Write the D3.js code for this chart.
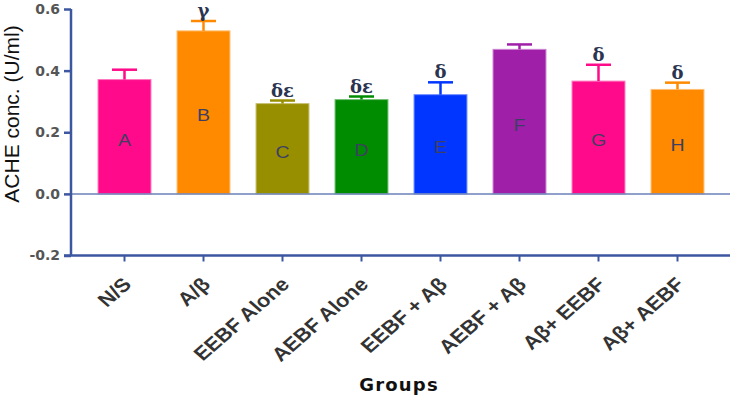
<!DOCTYPE html>
<html>
<head>
<meta charset="utf-8">
<script src="https://cdn.jsdelivr.net/npm/d3@7"></script>
<style>
  html, body { margin: 0; padding: 0; background: #fff; }
  svg { display: block; }
</style>
</head>
<body>
<div id="vis"></div>
<script>
// data
const groups = ["N/S", "A/β", "EEBF Alone", "AEBF Alone", "EEBF + Aβ", "AEBF + Aβ", "Aβ+ EEBF", "Aβ+ AEBF"];
const letters = ["A", "B", "C", "D", "E", "F", "G", "H"];
const means = [0.371, 0.529, 0.293, 0.306, 0.322, 0.469, 0.366, 0.339];
const errs = [0.032, 0.032, 0.010, 0.010, 0.040, 0.016, 0.053, 0.022];
const marks = ["", "γ", "δε", "δε", "δ", "", "δ", "δ"];
const colors = ["#ff0a8a", "#ff8a00", "#978f00", "#008c00", "#0036ff", "#a01fa9", "#ff0a8a", "#ff8a00"];
const yTicks = [-0.2, 0, 0.2, 0.4, 0.6];

const [width, height] = [733, 397];
const axisColor = "#3d56a0";

const svg = d3.select("#vis").append("svg")
  .attr("width", width).attr("height", height);

const x = d3.scaleBand().domain(groups).range([85, 717]).paddingInner(0.33).paddingOuter(0.165);
const y = d3.scaleLinear().domain([-0.2, 0.6]).range([255.5, 9]);

const rows = groups.map((g, i) => ({g, letter: letters[i], v: means[i], e: errs[i], mark: marks[i], c: colors[i]}));
const cx = d => x(d.g) + x.bandwidth() / 2;

// bars
const bar = svg.append("g").selectAll("g").data(rows).join("g");
bar.append("rect")
  .attr("x", d => x(d.g))
  .attr("y", d => y(d.v))
  .attr("width", x.bandwidth())
  .attr("height", d => y(0) - y(d.v))
  .attr("fill", d => d.c)
  .attr("stroke", d => d3.interpolateRgb(d.c, "#fff")(0.45))
  .attr("stroke-width", 1);
// error bars
bar.append("line")
  .attr("x1", cx).attr("x2", cx)
  .attr("y1", d => y(d.v)).attr("y2", d => y(d.v + d.e))
  .attr("stroke", d => d.c).attr("stroke-width", 2.5);
bar.append("line")
  .attr("x1", d => cx(d) - 12.5).attr("x2", d => cx(d) + 12.5)
  .attr("y1", d => y(d.v + d.e)).attr("y2", d => y(d.v + d.e))
  .attr("stroke", d => d.c).attr("stroke-width", 2.5);
// letters in bars
bar.append("text")
  .attr("x", cx)
  .attr("y", d => y(d.v / 2) + 9)
  .attr("text-anchor", "middle")
  .attr("font-family", "Liberation Sans, Arial, sans-serif")
  .attr("font-size", 17)
  .attr("fill", "#3d3f62")
  .attr("transform", d => `translate(${cx(d)},0) scale(1.15,1) translate(${-cx(d)},0)`)
  .text(d => d.letter);
// significance marks
bar.filter(d => d.mark).append("text")
  .attr("x", cx)
  .attr("y", d => y(d.v + d.e) - 4)
  .attr("text-anchor", "middle")
  .attr("font-family", "DejaVu Serif, serif")
  .attr("font-weight", "bold")
  .attr("font-size", 18)
  .attr("fill", "#2b3450")
  .text(d => d.mark);

// zero line
svg.append("line")
  .attr("x1", 71).attr("x2", 730).attr("y1", y(0)).attr("y2", y(0))
  .attr("stroke", "#6a80b8").attr("stroke-width", 1.5);

// y axis
const yAxis = svg.append("g")
  .attr("transform", "translate(71,0)")
  .call(d3.axisLeft(y).tickValues(yTicks).tickSize(7).tickPadding(4).tickFormat(d => d.toFixed(1)));
yAxis.select(".domain").attr("stroke", axisColor).attr("stroke-width", 2.5).attr("d", `M0,${y(0.6)}V${y(-0.2)}`);
yAxis.selectAll(".tick line").attr("stroke", axisColor).attr("stroke-width", 2.5);
yAxis.selectAll(".tick text")
  .attr("font-family", "DejaVu Sans, Verdana, sans-serif")
  .attr("font-weight", "bold")
  .attr("font-size", 14)
  .attr("fill", "#555");

// x axis
const xAxis = svg.append("g")
  .attr("transform", `translate(0,${y(-0.2)})`)
  .call(d3.axisBottom(x).tickSize(6).tickFormat(""));
xAxis.select(".domain").attr("stroke", axisColor).attr("stroke-width", 2.5).attr("d", "M64,0H730");
xAxis.selectAll(".tick line").attr("stroke", axisColor).attr("stroke-width", 2);

svg.append("g").selectAll("text").data(groups).join("text")
  .attr("transform", d => `translate(${x(d) + x.bandwidth() / 2 + 8},${y(-0.2) + 30}) scale(1.15,1) rotate(-45)`)
  .attr("text-anchor", "end")
  .attr("font-family", "Liberation Sans, Arial, sans-serif")
  .attr("font-weight", "bold")
  .attr("font-size", 19)
  .attr("fill", "#333")
  .text(d => d);

// axis titles
svg.append("text")
  .attr("transform", "translate(19,114) rotate(-90)")
  .attr("text-anchor", "middle")
  .attr("font-family", "Liberation Sans, Arial, sans-serif")
  .attr("font-size", 21)
  .attr("fill", "#111")
  .text("ACHE conc. (U/ml)");

svg.append("text")
  .attr("x", 399).attr("y", 391)
  .attr("text-anchor", "middle")
  .attr("font-family", "DejaVu Sans, Verdana, sans-serif")
  .attr("font-weight", "bold")
  .attr("font-size", 18)
  .attr("letter-spacing", 1.2)
  .attr("fill", "#111")
  .text("Groups");
</script>
</body>
</html>
